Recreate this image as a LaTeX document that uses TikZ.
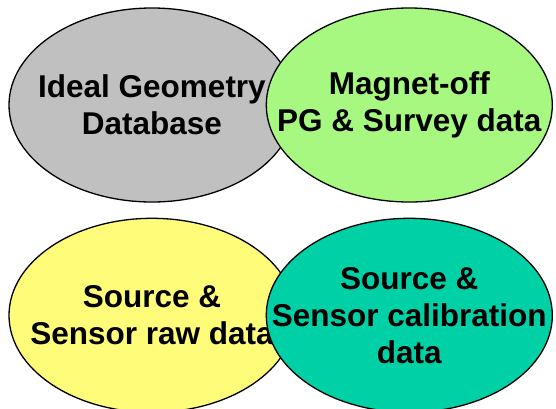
\documentclass[tikz,border=0pt]{standalone}
\usepackage{fontspec}
\setmainfont{Liberation Sans}
\usepackage{tikz}
\usetikzlibrary{positioning}
\usetikzlibrary{shapes.geometric}

\definecolor{dbgray}{RGB}{192,192,192}
\definecolor{pggreen}{RGB}{166,248,128}
\definecolor{rawyellow}{RGB}{255,252,122}
\definecolor{calteal}{RGB}{0,208,165}

\begin{document}
\begin{tikzpicture}[
    x=1pt, y=-1pt,
    datanode/.style={ellipse, draw=black, line width=1.3pt, inner sep=0pt,
        minimum width=286pt, minimum height=194pt},
    datatext/.style={align=center, inner sep=0pt,
        font=\fontsize{31.5}{37}\selectfont\bfseries},
    node distance=15pt and -30pt
    ]
    \useasboundingbox (0,0) rectangle (556,408);

    %Nodes
    \node[datanode, fill=dbgray, label={[datatext]center:Ideal Geometry\\Database}] (ideal) at (152,105) {};
    \node[datanode, fill=pggreen, label={[datatext]center:Magnet-off\\PG \& Survey data}] (survey) [right=of ideal] {};

    \node[datanode, fill=rawyellow, label={[datatext]center:Source \&\\Sensor raw data}] (raw) [below=of ideal] {};
    \node[datanode, fill=calteal, label={[datatext]center:Source \&\\Sensor calibration\\data}] (calib) [right=of raw] {};

    \end{tikzpicture}
\end{document}
